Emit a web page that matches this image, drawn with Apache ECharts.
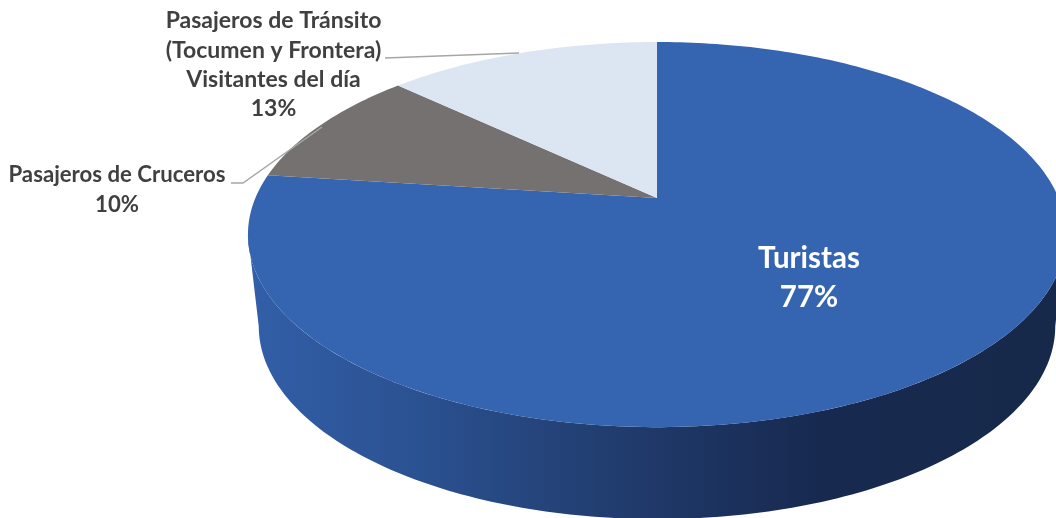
<!DOCTYPE html>
<html>
<head>
<meta charset="utf-8">
<title>Visitantes</title>
<style>
	html, body { margin: 0; padding: 0; background: #fff; }
	#chart { width: 1056px; height: 518px; }
</style>
<script src="https://cdn.jsdelivr.net/npm/echarts@6/dist/echarts.min.js"></script>
</head>
<body>
<div id="chart"></div>
<script>
	// datos del grafico, en sentido horario desde las 12
	var categories = ['Turistas', 'Pasajeros de Cruceros', 'Pasajeros de Tránsito\n(Tocumen y Frontera)\nVisitantes del día'];
	var values = [77, 10, 13];
	var colors = ['#3564b0', '#767171', '#dce6f2'];

	// disco superior y disco inferior, con la misma perspectiva
	var persp = 0.19;
	var topDisk = { x: 657, y: 198, rx: 401.6, ry: 185.6 };
	var bottomDisk = { x: 657, y: 289.5, rx: 391, ry: 186 };

	// etiquetas: centro del texto y linea guia
	var labelStyles = [
		{ x: 809, y: 278, size: 29.5, line: 39, fill: '#ffffff' },
		{ x: 117, y: 190, size: 22.2, line: 30, fill: '#404040', guide: [[231, 183], [243, 183], [322, 127]] },
		{ x: 273.5, y: 65, size: 23, line: 29.3, fill: '#404040', guide: [[385, 58], [519, 53]] }
	];

	var total = values.reduce(function (a, b) { return a + b; }, 0);

	// proyecta un angulo (grados, horario desde arriba) sobre el disco
	function project(disk, deg) {
		var t = deg * Math.PI / 180;
		var u = Math.sin(t), v = -Math.cos(t);
		var w = 1 - persp * v;
		return [disk.x + disk.rx * u / w, disk.y + disk.ry * v / w];
	}

	function arc(disk, from, to) {
		var pts = [];
		var n = Math.max(2, Math.ceil(Math.abs(to - from)));
		for (var i = 0; i <= n; i++) {
			pts.push(project(disk, from + (to - from) * i / n));
		}
		return pts;
	}

	// parte visible de la pared: entre los dos extremos horizontales del disco
	var frontFrom = Math.acos(-persp) * 180 / Math.PI;
	var frontTo = 360 - frontFrom;

	var wallFill = new echarts.graphic.LinearGradient(248, 0, 1066, 0, [
		{ offset: 0, color: '#325fa8' },
		{ offset: 0.2, color: '#2b5292' },
		{ offset: 0.45, color: '#213c6e' },
		{ offset: 0.7, color: '#17294f' },
		{ offset: 1, color: '#17294a' }
	], true);

	function renderSlice(params, api) {
		var i = api.value(0);
		var start = 0;
		for (var j = 0; j < i; j++) {
			start += values[j] / total * 360;
		}
		var end = start + api.value(1) / total * 360;
		var children = [];

		var a = Math.max(start, frontFrom), b = Math.min(end, frontTo);
		if (b > a) {
			children.push({
				type: 'polygon',
				shape: { points: arc(topDisk, a, b).concat(arc(bottomDisk, b, a)) },
				style: { fill: wallFill }
			});
		}
		children.push({
			type: 'polygon',
			shape: { points: [[topDisk.x, topDisk.y]].concat(arc(topDisk, start, end)) },
			style: { fill: colors[i] }
		});
		return { type: 'group', children: children };
	}

	function renderLabel(params, api) {
		var i = api.value(0);
		var s = labelStyles[i];
		var children = [];
		if (s.guide) {
			children.push({
				type: 'polyline',
				shape: { points: s.guide },
				style: { stroke: '#a6a6a6', lineWidth: 1.5, fill: 'none' }
			});
		}
		children.push({
			type: 'text',
			style: {
				text: categories[i] + '\n' + api.value(1) + '%',
				x: s.x,
				y: s.y,
				align: 'center',
				verticalAlign: 'middle',
				fontFamily: 'Lato',
				fontWeight: 'bold',
				fontSize: s.size,
				lineHeight: s.line,
				fill: s.fill
			}
		});
		return { type: 'group', children: children };
	}

	var seriesData = values.map(function (v, i) { return [i, v]; });

	var myChart = echarts.init(document.getElementById('chart'), null, { renderer: 'canvas' });
	myChart.setOption({
		animation: false,
		backgroundColor: '#ffffff',
		series: [{
			type: 'custom',
			coordinateSystem: 'none',
			silent: true,
			renderItem: renderSlice,
			data: seriesData,
			z: 1
		}, {
			type: 'custom',
			coordinateSystem: 'none',
			silent: true,
			renderItem: renderLabel,
			data: seriesData,
			z: 2
		}]
	});
</script>
</body>
</html>
